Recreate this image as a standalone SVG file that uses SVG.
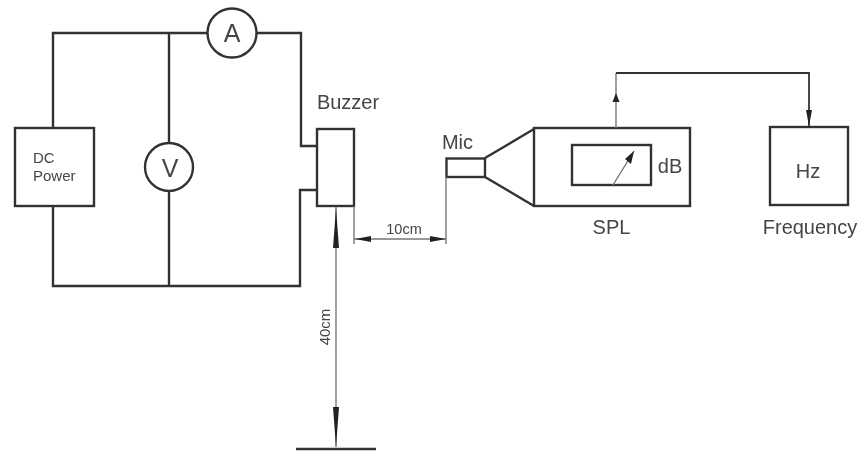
<svg xmlns="http://www.w3.org/2000/svg" width="865" height="451" viewBox="0 0 865 451">
<defs><filter id="b" x="-5%" y="-5%" width="110%" height="110%"><feGaussianBlur stdDeviation="0.5"/></filter></defs>
<style>
.s{fill:none;stroke:#333;stroke-width:2.4}
.n{fill:#fff;stroke:#333;stroke-width:2.4}
.t{fill:none;stroke:#777;stroke-width:1.4}
.a{fill:#222;stroke:none}
text{font-family:"Liberation Sans",Arial,sans-serif;fill:#444;text-anchor:middle}
</style>
<rect width="865" height="451" fill="#fff"/>
<g filter="url(#b)">
<g id="dc-power"><rect class="n" x="15" y="128" width="79" height="78"/><text x="33" y="163" font-size="15" style="text-anchor:start">DC</text><text x="33" y="181" font-size="15" style="text-anchor:start">Power</text></g>
<g id="ammeter"><circle class="n" cx="232" cy="33" r="24.500"/><text x="232" y="42" font-size="25">A</text></g>
<g id="voltmeter"><circle class="n" cx="169" cy="167" r="24"/><text x="170" y="177" font-size="25">V</text></g>
<g id="buzzer"><rect class="n" x="317" y="129" width="37" height="77"/><text x="348" y="109" font-size="20">Buzzer</text></g>
<g id="mic"><rect class="n" x="446.500" y="158.500" width="38.500" height="18.500"/><text x="457.500" y="149" font-size="20">Mic</text></g>
<g id="spl"><rect class="n" x="534" y="128" width="156" height="78"/><rect class="s" x="572" y="145" width="79" height="40"/><text x="670" y="173" font-size="20">dB</text><text x="611.500" y="234" font-size="20">SPL</text></g>
<g id="frequency"><rect class="n" x="770" y="127" width="78" height="78"/><text x="808" y="178" font-size="20">Hz</text><text x="810" y="234" font-size="20">Frequency</text></g>
<g id="connectors">
<path class="s" d="M53 128V33H208M256 33H301V146H317M317 190H300V286H53V206"/>
<path class="s" d="M169 33V143M169 191V286"/>
<path class="t" d="M616 128V73M354 206V244M446 177V244M354 239H446M336 207V447M613 185L634 151"/>
<path class="s" style="stroke-width:1.8" d="M616 73H809V127"/>
<path class="s" d="M296 449H376"/>
<path class="s" d="M485 158L534 129M485 177L534 206"/>
<path class="a" d="M616 93L612.500 102H619.500ZM806 110H812L809 126ZM355 239L371 236V242ZM446 239L430 236V242ZM336 208L333 248H339ZM336 447L333 407H339ZM634 151L625 159L631 164Z"/>
</g>
<g id="dimensions"><text x="404" y="234" font-size="14.500">10cm</text><text transform="translate(330 327) rotate(-90)" font-size="15">40cm</text></g>
</g>
</svg>
